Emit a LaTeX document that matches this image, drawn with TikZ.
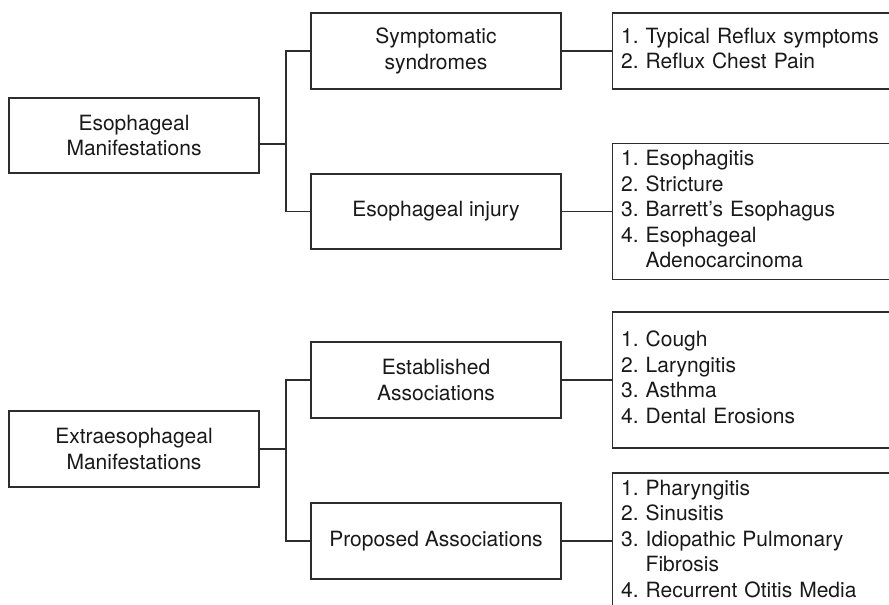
\documentclass[tikz,border=0pt]{standalone}
\usepackage{fontspec}
\setmainfont{TeX Gyre Heros}
\usepackage{tikz}
\usetikzlibrary{positioning}
\definecolor{darkline}{RGB}{45,45,45}
\definecolor{darktext}{RGB}{25,25,25}
\newcommand{\itemlist}[1]{\begin{tabular}{@{}l@{}}#1\end{tabular}}

\begin{document}
\begin{tikzpicture}[
            x = 1pt, y = 1pt,
            node distance = 50pt, % gap between box columns
            semithick
        ]

        \tikzstyle{every node}=[
            font = \fontsize{21}{25.5}\selectfont\frenchspacing,
            text = darktext
        ]
        \tikzstyle{group}=[
            draw = darkline,
            line width = 1.2pt,
            minimum width = 250pt,
            minimum height = 76pt,
            inner sep = 0pt,
            align = center
        ]
        \tikzstyle{item}=[
            draw = darkline,
            line width = 1.2pt,
            text width = 259pt,
            inner xsep = 9pt,
            inner ysep = 0pt,
            align = left
        ]
        \tikzstyle{link}=[draw = darkline, line width = 1.2pt]

        % page frame
        \useasboundingbox (0,0) rectangle (889,605);
        \clip (0,0) rectangle (889,605);

        % esophageal
        \node[group, minimum height = 75pt] (EM) at (134,469.5) {Esophageal\\Manifestations};
        \node[group] (SS) at (436,554) {Symptomatic\\syndromes};
        \node[group, minimum height = 75pt] (EI) at (436,393.5) {Esophageal injury};

        \node[item, minimum height = 76pt] (SL) [right=of SS] {\itemlist{1. Typical Reflux symptoms\\2. Reflux Chest Pain}};
        \node[item, minimum height = 136pt] (IL) [right=of EI] {\itemlist{1. Esophagitis\\2. Stricture\\3. Barrett's Esophagus\\4. Esophageal\\\phantom{4. }Adenocarcinoma}};

        \coordinate (J1) at (286,461);
        \draw[link] (EM.east |- J1) -- (J1);
        \draw[link] (SS.west) -| (J1) |- (EI.west);
        \draw[link] (SS) -- (SL);
        \draw[link] (EI) -- (IL);

        % extraesophageal
        \node[group] (XM) at (134,156) {Extraesophageal\\Manifestations};
        \node[group] (EA) at (436,225) {Established\\Associations};
        \node[group] (PA) at (436,64) {Proposed Associations};

        \node[item, minimum height = 136pt] (EL) [right=of EA] {\itemlist{1. Cough\\2. Laryngitis\\3. Asthma\\4. Dental Erosions}};
        \node[item, minimum height = 136pt] (PL) [right=of PA] {\itemlist{1. Pharyngitis\\2. Sinusitis\\3. Idiopathic Pulmonary\\\phantom{3. }Fibrosis\\4. Recurrent Otitis Media}};

        \coordinate (J2) at (286,156);
        \draw[link] (XM) -- (J2);
        \draw[link] (EA.west) -| (J2) |- (PA.west);
        \draw[link] (EA) -- (EL);
        \draw[link] (PA) -- (PL);

\end{tikzpicture}
\end{document}
